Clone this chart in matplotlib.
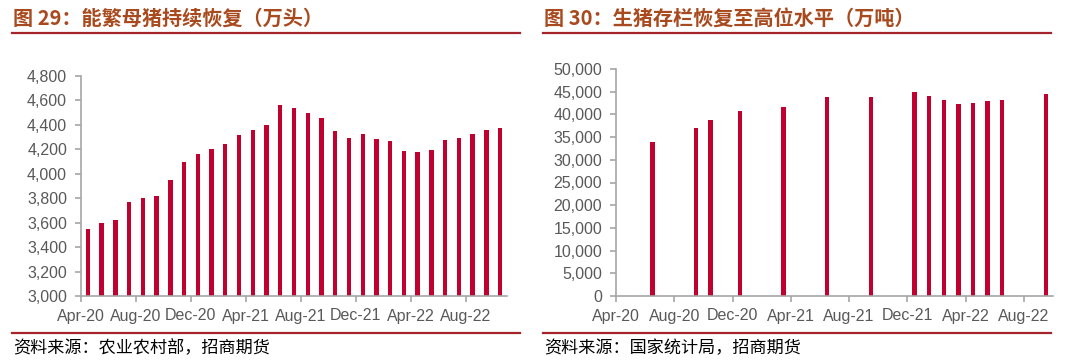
import matplotlib
matplotlib.use("Agg")
import matplotlib.pyplot as plt
from matplotlib.lines import Line2D
from matplotlib.ticker import FuncFormatter
import numpy as np

plt.rcParams['font.family'] = ['Liberation Sans', 'Noto Sans CJK SC', 'DejaVu Sans']

# ---------------- data ----------------
left_months = ['Apr-20', 'May-20', 'Jun-20', 'Jul-20', 'Aug-20', 'Sep-20', 'Oct-20', 'Nov-20',
               'Dec-20', 'Jan-21', 'Feb-21', 'Mar-21', 'Apr-21', 'May-21', 'Jun-21', 'Jul-21',
               'Aug-21', 'Sep-21', 'Oct-21', 'Nov-21', 'Dec-21', 'Jan-22', 'Feb-22', 'Mar-22',
               'Apr-22', 'May-22', 'Jun-22', 'Jul-22', 'Aug-22', 'Sep-22', 'Oct-22']
sow_values = [3546, 3595, 3625, 3773, 3798, 3819, 3948, 4098, 4158, 4202, 4245, 4314, 4360,
              4396, 4560, 4538, 4497, 4456, 4347, 4295, 4325, 4287, 4267, 4183, 4175, 4191,
              4276, 4295, 4322, 4360, 4374]

right_months = left_months[:30]
hog_months = ['Jun-20', 'Sep-20', 'Oct-20', 'Dec-20', 'Mar-21', 'Jun-21', 'Sep-21', 'Dec-21',
              'Jan-22', 'Feb-22', 'Mar-22', 'Apr-22', 'May-22', 'Jun-22', 'Sep-22']
hog_values = [34000, 37000, 38800, 40650, 41600, 43900, 43760, 44900, 44050, 43170, 42300,
              42440, 43020, 43100, 44420]

tick_labels = ['Apr-20', 'Aug-20', 'Dec-20', 'Apr-21', 'Aug-21', 'Dec-21', 'Apr-22', 'Aug-22']

left_title = '图 29：能繁母猪持续恢复（万头）'
right_title = '图 30：生猪存栏恢复至高位水平（万吨）'
left_source = '资料来源：农业农村部，招商期货'
right_source = '资料来源：国家统计局，招商期货'

# ---------------- style ----------------
BAR = '#C0002F'
TITLE_C = '#A84A1E'
LINE_C = '#A5232B'
AX_C = '#A6A6A6'
TXT_C = '#595959'
CJK = ['Noto Sans CJK SC', 'DejaVu Sans']

fig = plt.figure(figsize=(10.8, 3.61), dpi=100)

comma = FuncFormatter(lambda v, p: f'{int(v):,}')


def style_axis(ax):
    for s in ('top', 'right'):
        ax.spines[s].set_visible(False)
    for s in ('left', 'bottom'):
        ax.spines[s].set_color(AX_C)
        ax.spines[s].set_linewidth(1.2)
    ax.tick_params(axis='y', direction='out', length=4, width=1.2, color=AX_C,
                   labelsize=11.5, labelcolor=TXT_C, pad=6)
    ax.tick_params(axis='x', direction='out', length=4, width=1.2, color=AX_C,
                   labelsize=11.5, labelcolor=TXT_C, pad=5)
    ax.yaxis.set_major_formatter(comma)


# left chart
ax1 = fig.add_axes([81 / 1080, 65 / 361, 426 / 1080, 220 / 361])
x1 = np.arange(len(left_months))
ax1.bar(x1, np.array(sow_values) - 3000, bottom=3000, width=0.32, color=BAR)
ax1.set_ylim(3000, 4800)
ax1.set_yticks(np.arange(3000, 4801, 200))
ax1.set_xlim(-0.5, len(left_months) - 0.5)
ax1.set_xticks([left_months.index(m) - 0.5 for m in tick_labels])
ax1.set_xticklabels(tick_labels)
style_axis(ax1)

# right chart
ax2 = fig.add_axes([616 / 1080, 65 / 361, 437 / 1080, 227 / 361])
x2 = [right_months.index(m) for m in hog_months]
ax2.bar(x2, hog_values, width=0.3, color=BAR)
ax2.set_ylim(0, 50000)
ax2.set_yticks(np.arange(0, 50001, 5000))
ax2.set_xlim(-0.5, len(right_months) - 0.5)
ax2.set_xticks([right_months.index(m) - 0.5 for m in tick_labels])
ax2.set_xticklabels(tick_labels)
style_axis(ax2)

# titles, lines, sources
for (x0, x1p, title, src) in [(12, 520, left_title, left_source),
                               (543, 1051, right_title, right_source)]:
    fig.text((x0 + 1) / 1080, 1 - 18 / 361, title, fontsize=14.5, fontweight='bold',
             color=TITLE_C, family=CJK, va='center', ha='left')
    fig.add_artist(Line2D([x0 / 1080, x1p / 1080], [1 - 33 / 361] * 2, color=LINE_C, lw=1.6))
    fig.add_artist(Line2D([x0 / 1080, x1p / 1080], [1 - 333 / 361] * 2, color=LINE_C, lw=1.6))
    fig.text((x0 + 1) / 1080, 1 - 348 / 361, src, fontsize=12.3, color='black',
             family=CJK, va='center', ha='left')

fig.savefig('out.png', dpi=100)
